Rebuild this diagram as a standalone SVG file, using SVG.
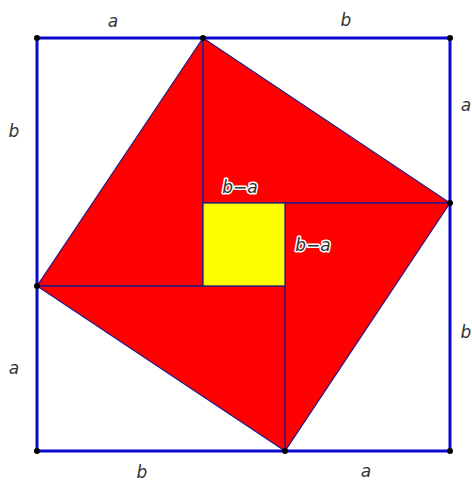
<svg xmlns="http://www.w3.org/2000/svg" width="472" height="481" viewBox="0 0 472 481">
<style>
.lbl{font-family:"DejaVu Sans","Liberation Sans",sans-serif;font-style:italic;font-size:17px;fill:#333;text-anchor:middle}
.halo{paint-order:stroke;stroke:#fff;stroke-width:3px;stroke-linejoin:round}
.tri{fill:#ff0000;stroke:#2a1a80;stroke-width:1.3}
.frame{fill:none;stroke:#0a0acc;stroke-width:3}
.dot{fill:#000}
</style>
<rect width="472" height="481" fill="#fff"/>
<g id="triangles">
<polygon id="t1" class="tri" points="203,38 37,286 203,286"/>
<polygon id="t2" class="tri" points="203,38 450,203 203,203"/>
<polygon id="t3" class="tri" points="450,203 285,451 285,203"/>
<polygon id="t4" class="tri" points="285,451 37,286 285,286"/>
</g>
<g id="inner-square">
<rect x="203" y="203" width="82" height="83" fill="#ffff00" stroke="#2a1a80" stroke-width="1.3"/>
</g>
<g id="frame">
<rect class="frame" x="37" y="38" width="413" height="413"/>
</g>
<g id="points">
<circle class="dot" cx="37" cy="38" r="3"/>
<circle class="dot" cx="203" cy="38" r="3"/>
<circle class="dot" cx="450" cy="38" r="3"/>
<circle class="dot" cx="450" cy="203" r="3"/>
<circle class="dot" cx="450" cy="451" r="3"/>
<circle class="dot" cx="285" cy="451" r="3"/>
<circle class="dot" cx="37" cy="451" r="3"/>
<circle class="dot" cx="37" cy="286" r="3"/>
</g>
<g id="labels">
<text class="lbl" x="113" y="27">a</text>
<text class="lbl" x="346" y="26">b</text>
<text class="lbl" x="14" y="137">b</text>
<text class="lbl" x="14" y="374">a</text>
<text class="lbl" x="466" y="111">a</text>
<text class="lbl" x="466" y="338">b</text>
<text class="lbl" x="142" y="478">b</text>
<text class="lbl" x="366" y="477">a</text>
<text class="lbl halo" x="240" y="193">b−a</text>
<text class="lbl halo" x="313" y="251">b−a</text>
</g>
</svg>
